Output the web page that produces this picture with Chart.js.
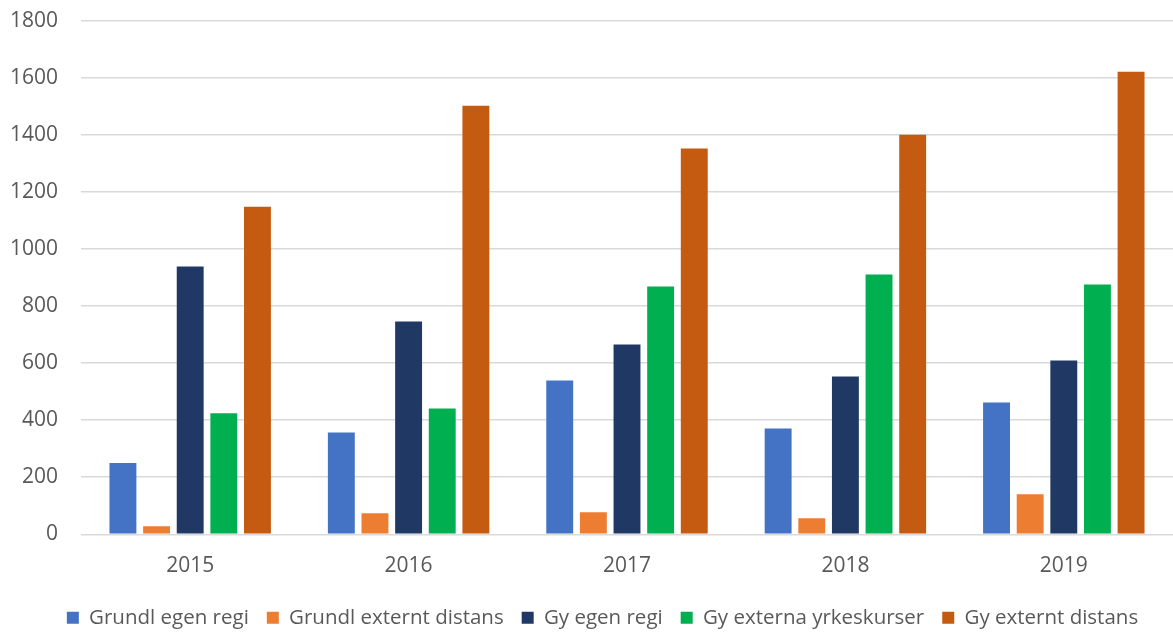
<!DOCTYPE html>
<html><head><meta charset="utf-8">
<script src="https://cdn.jsdelivr.net/npm/chart.js@4"></script>
<style>html,body{margin:0;padding:0;background:#fff;overflow:hidden;}#outer{width:1173px;height:633px;overflow:hidden;position:relative;}#wrap{position:absolute;left:0;top:-15px;width:1173px;height:648px;}</style>
</head><body><div id="outer"><div id="wrap"><canvas id="c"></canvas></div></div>
<script>
const categories = ["2015", "2016", "2017", "2018", "2019"];
const seriesNames = ["Grundl egen regi", "Grundl externt distans", "Gy egen regi", "Gy externa yrkeskurser", "Gy externt distans"];
const grundlEgenRegi = [250, 357, 539, 371, 462];
const grundlExterntDistans = [28, 74, 77, 56, 140];
const gyEgenRegi = [938, 746, 665, 553, 609];
const gyExternaYrkeskurser = [424, 441, 868, 910, 875];
const gyExterntDistans = [1148, 1502, 1352, 1400, 1621];
const yTicks = [0, 200, 400, 600, 800, 1000, 1200, 1400, 1600, 1800];
const colors = ["#4472C4", "#ED7D31", "#203864", "#00B050", "#C55A11"];
const values = [grundlEgenRegi, grundlExterntDistans, gyEgenRegi, gyExternaYrkeskurser, gyExterntDistans];

Chart.defaults.font.family = "'Open Sans', 'Liberation Sans', sans-serif";
Chart.defaults.color = "#595959";

const legendShift = {
  id: 'legendShift',
  afterLayout(chart) {
    if (chart.legend) { chart.legend.left += 16; chart.legend.right += 16; }
  }
};

new Chart(document.getElementById('c'), {
  type: 'bar',
  data: {
    labels: categories,
    datasets: seriesNames.map((n, i) => ({
      label: n,
      data: values[i],
      backgroundColor: colors[i],
      borderWidth: 0,
      categoryPercentage: 0.77,
      barPercentage: 0.8
    }))
  },
  plugins: [legendShift],
  options: {
    responsive: true,
    maintainAspectRatio: false,
    animation: false,
    layout: { padding: { top: -6, right: 0, left: 0, bottom: -5 } },
    plugins: {
      legend: {
        position: 'bottom',
        labels: { boxWidth: 12, boxHeight: 12, padding: 18, font: { size: 20.5 }, color: "#595959" }
      },
      tooltip: { enabled: false }
    },
    scales: {
      x: {
        grid: { display: false },
        border: { display: false },
        ticks: { font: { size: 21 }, color: "#595959", padding: 11 }
      },
      y: {
        min: 0, max: 1800,
        afterBuildTicks: (axis) => { axis.ticks = yTicks.map(v => ({ value: v })); },
        afterFit: (axis) => { axis.width = 81; },
        grid: { color: "#d9d9d9", lineWidth: 1.5, drawTicks: false },
        border: { display: false },
        ticks: { font: { size: 21 }, color: "#595959", padding: 23, callback: (v) => String(v) }
      }
    }
  }
});
</script></body></html>
